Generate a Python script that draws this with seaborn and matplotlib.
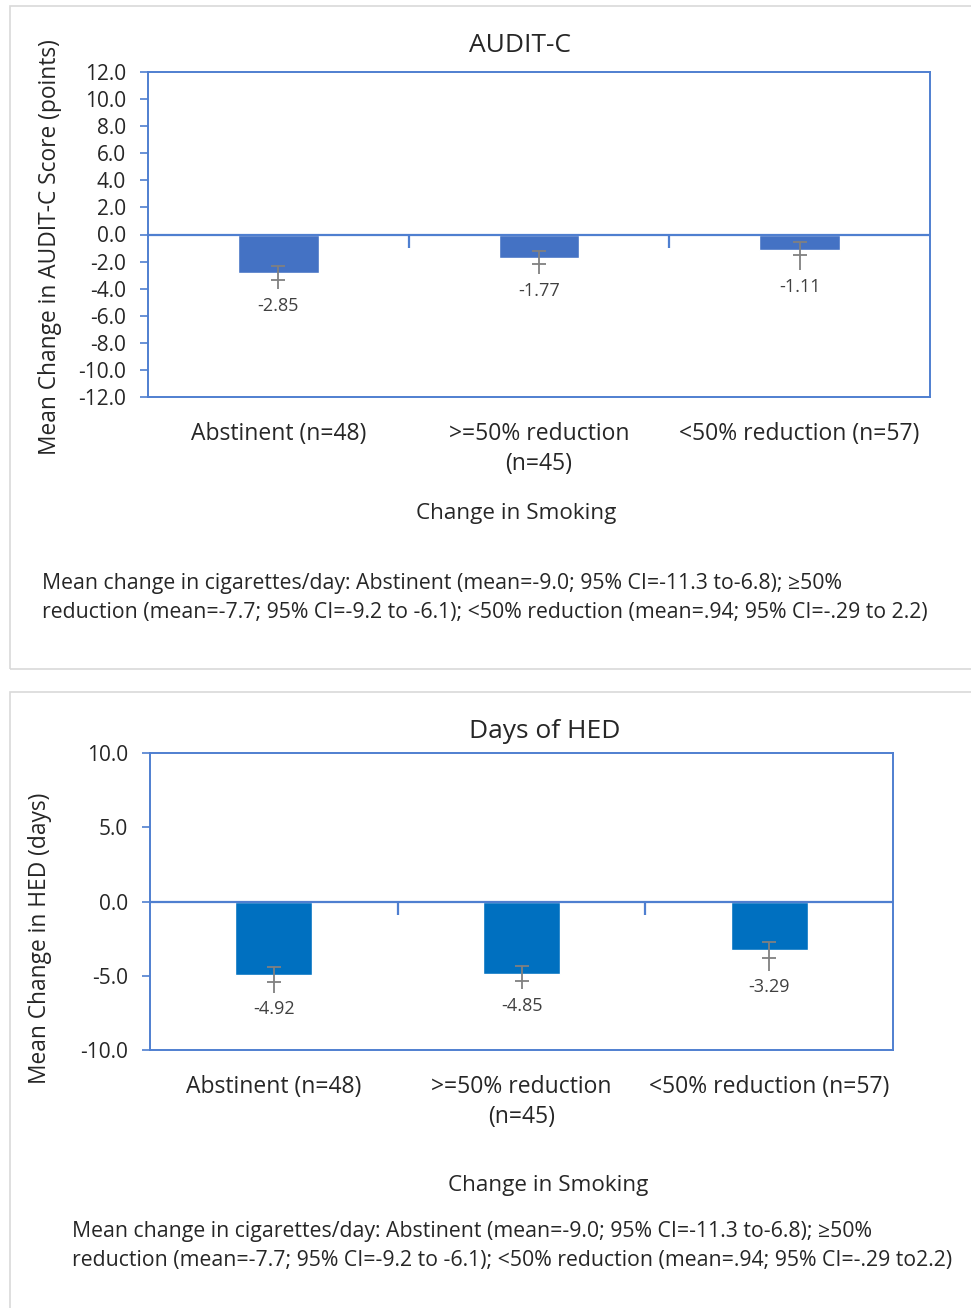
"""
Smoking change vs drinking outcomes: two bar panels (AUDIT-C, Days of HED)
"""
import matplotlib

matplotlib.use("Agg")
import matplotlib.pyplot as plt
import numpy as np
import pandas as pd
import seaborn as sns
from matplotlib.patches import Rectangle
from matplotlib.ticker import FormatStrFormatter

# ---- data ----
groups = ["Abstinent (n=48)", ">=50% reduction\n(n=45)", "<50% reduction (n=57)"]

audit_mean = [-2.85, -1.77, -1.11]
audit_err_top = [-2.30, -1.22, -0.58]
audit_err_mid = [-3.36, -2.20, -1.54]
audit_err_end = [-4.03, -2.94, -2.62]

hed_mean = [-4.92, -4.85, -3.29]
hed_err_top = [-4.39, -4.34, -2.75]
hed_err_mid = [-5.42, -5.33, -3.83]
hed_err_end = [-6.14, -5.89, -4.66]

audit_ticks = np.arange(-12, 12.1, 2)
hed_ticks = np.arange(-10, 10.1, 5)

note_top = ("Mean change in cigarettes/day: Abstinent (mean=-9.0; 95% CI=-11.3 to-6.8); \u226550%\n"
            "reduction (mean=-7.7; 95% CI=-9.2 to -6.1); <50% reduction (mean=.94; 95% CI=-.29 to 2.2)")
note_bottom = ("Mean change in cigarettes/day: Abstinent (mean=-9.0; 95% CI=-11.3 to-6.8); \u226550%\n"
               "reduction (mean=-7.7; 95% CI=-9.2 to -6.1); <50% reduction (mean=.94; 95% CI=-.29 to2.2)")

# ---- style ----
sns.set_theme(style="white")
plt.rcParams["font.family"] = ["Open Sans", "Noto Sans", "DejaVu Sans"]
TEXT = "#262626"
AXIS_BLUE = "#4F7FD0"
ERR_GRAY = "#808080"

W, H = 971, 1308
fig = plt.figure(figsize=(W / 100, H / 100), dpi=100)


def fx(px):
    return px / W


def fy(py):
    return 1 - py / H


# panel frames
for top, bottom in [(6, 669), (692, 1312)]:
    fig.patches.append(Rectangle((fx(10), fy(bottom)), fx(975) - fx(10), fy(top) - fy(bottom),
                                 transform=fig.transFigure, fill=False,
                                 edgecolor="#d9d9d9", linewidth=1.2))


def draw_panel(ax, means, err_top, err_mid, err_end, color, ticks, lim):
    df = pd.DataFrame({"group": groups, "value": means})
    sns.barplot(data=df, x="group", y="value", color=color, saturation=1,
                width=0.31, errorbar=None, ax=ax, zorder=2)
    pos = np.arange(len(groups))
    top = np.array(err_top)
    mid = np.array(err_mid)
    ax.errorbar(pos, mid, yerr=[np.zeros(len(pos)), top - mid], fmt="none",
                ecolor=ERR_GRAY, elinewidth=1.3, capsize=5, capthick=1.3, zorder=3)
    ax.vlines(pos, err_end, err_mid, color=ERR_GRAY, linewidth=1.3, zorder=3)
    for x, end, m in zip(pos, err_end, means):
        ax.annotate(f"{m:.2f}", (x, end), xytext=(0, -12), textcoords="offset points",
                    ha="center", va="center", fontsize=13, color="#404040")

    ax.axhline(0, color=AXIS_BLUE, linewidth=1.6, zorder=4)
    ax.plot([0.5, 1.5], [0, 0], linestyle="none", marker=3, markersize=9,
            markeredgewidth=1.6, color=AXIS_BLUE, zorder=4)

    ax.set_xlim(-0.5, len(groups) - 0.5)
    ax.set_ylim(-lim, lim)
    ax.set_yticks(ticks)
    ax.yaxis.set_major_formatter(FormatStrFormatter("%.1f"))
    ax.tick_params(axis="y", left=True, direction="out", length=6, width=1.2,
                   color=AXIS_BLUE, labelsize=15, labelcolor=TEXT, pad=10)
    ax.tick_params(axis="x", bottom=False, labelsize=16.5, labelcolor=TEXT, pad=12)
    for lbl in ax.get_xticklabels():
        lbl.set_linespacing(1.35)
        lbl.set_verticalalignment("top")
    for sp in ax.spines.values():
        sp.set_visible(True)
        sp.set_color(AXIS_BLUE)
        sp.set_linewidth(1.4)
    ax.set_xlabel("")
    ax.set_ylabel("")
    ax.set_facecolor("white")


# ---- AUDIT-C ----
ax1 = fig.add_axes([fx(148), fy(397), fx(930) - fx(148), fy(72) - fy(397)])
draw_panel(ax1, audit_mean, audit_err_top, audit_err_mid, audit_err_end,
           "#4472C4", audit_ticks, 12)
fig.text(fx(520), fy(45), "AUDIT-C", ha="center", va="center", fontsize=19, color=TEXT)
fig.text(fx(50), fy(247), "Mean Change in AUDIT-C Score (points)", rotation=90,
         ha="center", va="center", fontsize=16.4, color=TEXT)
fig.text(fx(516), fy(514), "Change in Smoking", ha="center", va="center", fontsize=16.2, color=TEXT)
fig.text(fx(42), fy(598), note_top, ha="left", va="center", fontsize=15.3,
         color=TEXT, linespacing=1.45)

# ---- Days of HED ----
ax2 = fig.add_axes([fx(150), fy(1050), fx(893) - fx(150), fy(753) - fy(1050)])
draw_panel(ax2, hed_mean, hed_err_top, hed_err_mid, hed_err_end,
           "#0070C0", hed_ticks, 10)
fig.text(fx(545), fy(731), "Days of HED", ha="center", va="center", fontsize=19, color=TEXT)
fig.text(fx(40), fy(938), "Mean Change in HED (days)", rotation=90,
         ha="center", va="center", fontsize=16.4, color=TEXT)
fig.text(fx(548), fy(1186), "Change in Smoking", ha="center", va="center", fontsize=16.2, color=TEXT)
fig.text(fx(72), fy(1246), note_bottom, ha="left", va="center", fontsize=15.3,
         color=TEXT, linespacing=1.45)

fig.savefig("out.png", dpi=100, facecolor="white")
